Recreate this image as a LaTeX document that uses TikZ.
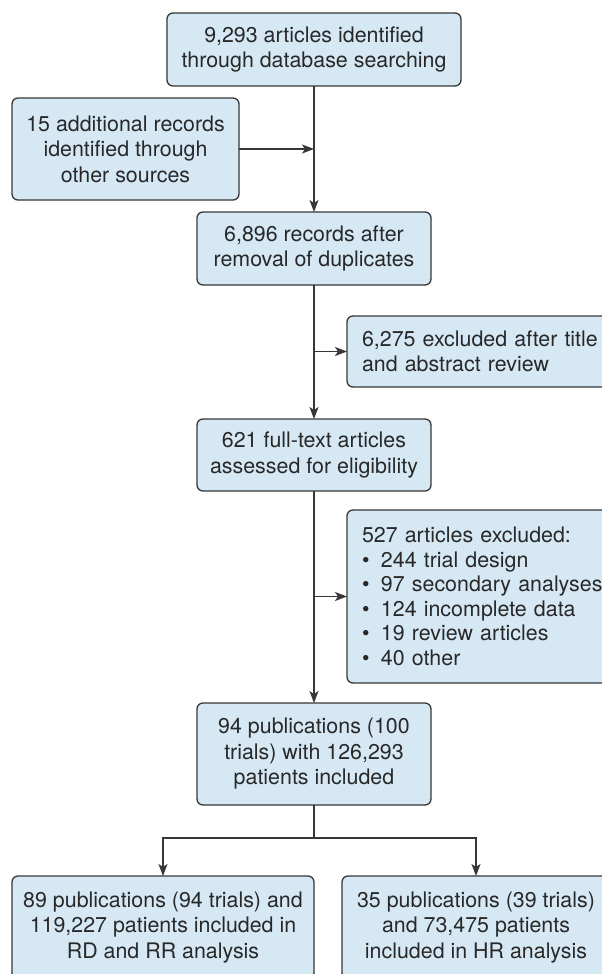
\documentclass[tikz,border=0pt]{standalone}
\usepackage{fontspec}
\setmainfont{TeX Gyre Heros}
\usetikzlibrary{positioning}
\usetikzlibrary{arrows.meta}

\definecolor{boxfill}{RGB}{214,232,244}
\definecolor{boxdraw}{RGB}{55,55,55}
\definecolor{boxtext}{RGB}{40,40,40}

\tikzset{
  box/.style={draw=boxdraw, fill=boxfill, line width=1.3pt, rounded corners=6pt,
    align=center, inner sep=0pt, outer sep=0pt, text=boxtext,
    font=\fontsize{21.4}{25.5}\selectfont},
  sidebox/.style={box, anchor=north west, align=left, text width=270pt,
    inner xsep=15pt, minimum width=300pt},
  link/.style={draw=boxdraw, line width=1.3pt,
    -{Stealth[length=12pt, width=9pt, inset=3pt]}}
}
\newcommand{\bul}{\makebox[19pt][l]{\textbullet}}

\begin{document}
\begin{tikzpicture}[x=1pt, y=-1pt]
        \useasboundingbox (0,0) rectangle (602,974);
        \clip (0,0) rectangle (602,974);

        \node[box, minimum width=294pt, minimum height=73pt]  (search)   at (314,49.5)
          {9,293 articles identified\\through database searching};
        \node[box, minimum width=227pt, minimum height=102pt] (other)    at (125.5,149)
          {15 additional records\\identified through\\other sources};
        \node[box, minimum width=234pt, minimum height=73pt]  (dedup)    at (314,248.5)
          {6,896 records after\\removal of duplicates};
        \node[sidebox, minimum height=71pt]                   (titleex)  at (347,316)
          {6,275 excluded after title\\and abstract review};
        \node[box, minimum width=234pt, minimum height=72pt]  (fulltext) at (314,455)
          {621 full-text articles\\assessed for eligibility};
        \node[sidebox, minimum height=173pt,
              font=\fontsize{21.4}{24.5}\selectfont]          (fullex)   at (347,510)
          {527 articles excluded:\\\bul 244 trial design\\\bul 97 secondary analyses\\
           \bul 124 incomplete data\\\bul 19 review articles\\\bul 40 other};
        \node[box, minimum width=234pt, minimum height=102pt] (included) at (314,754)
          {94 publications (100\\trials) with 126,293\\patients included};
        \node[box, minimum width=302pt, minimum height=103pt] (rdrr)     at (163,927.5)
          {89 publications (94 trials) and\\119,227 patients included in\\RD and RR analysis};
        \node[box, minimum width=268pt, minimum height=103pt] (hr)       at (476,927.5)
          {35 publications (39 trials)\\and 73,475 patients\\included in HR analysis};
        \coordinate[below=33pt of included.south] (split);

        \draw[link] (search) -- (dedup);
        \draw[link] (other.east) -- (other.east -| search.south);
        \draw[link] (dedup) -- (fulltext);
        \draw[link] (dedup.south |- titleex.west) -- (titleex.west);
        \draw[link] (fulltext) -- (included);
        \draw[link] (fulltext.south |- fullex.west) -- (fullex.west);
        \draw[link] (included.south) -- (split) -| (rdrr.north);
        \draw[link] (split) -| (hr.north);
      \end{tikzpicture}
\end{document}
